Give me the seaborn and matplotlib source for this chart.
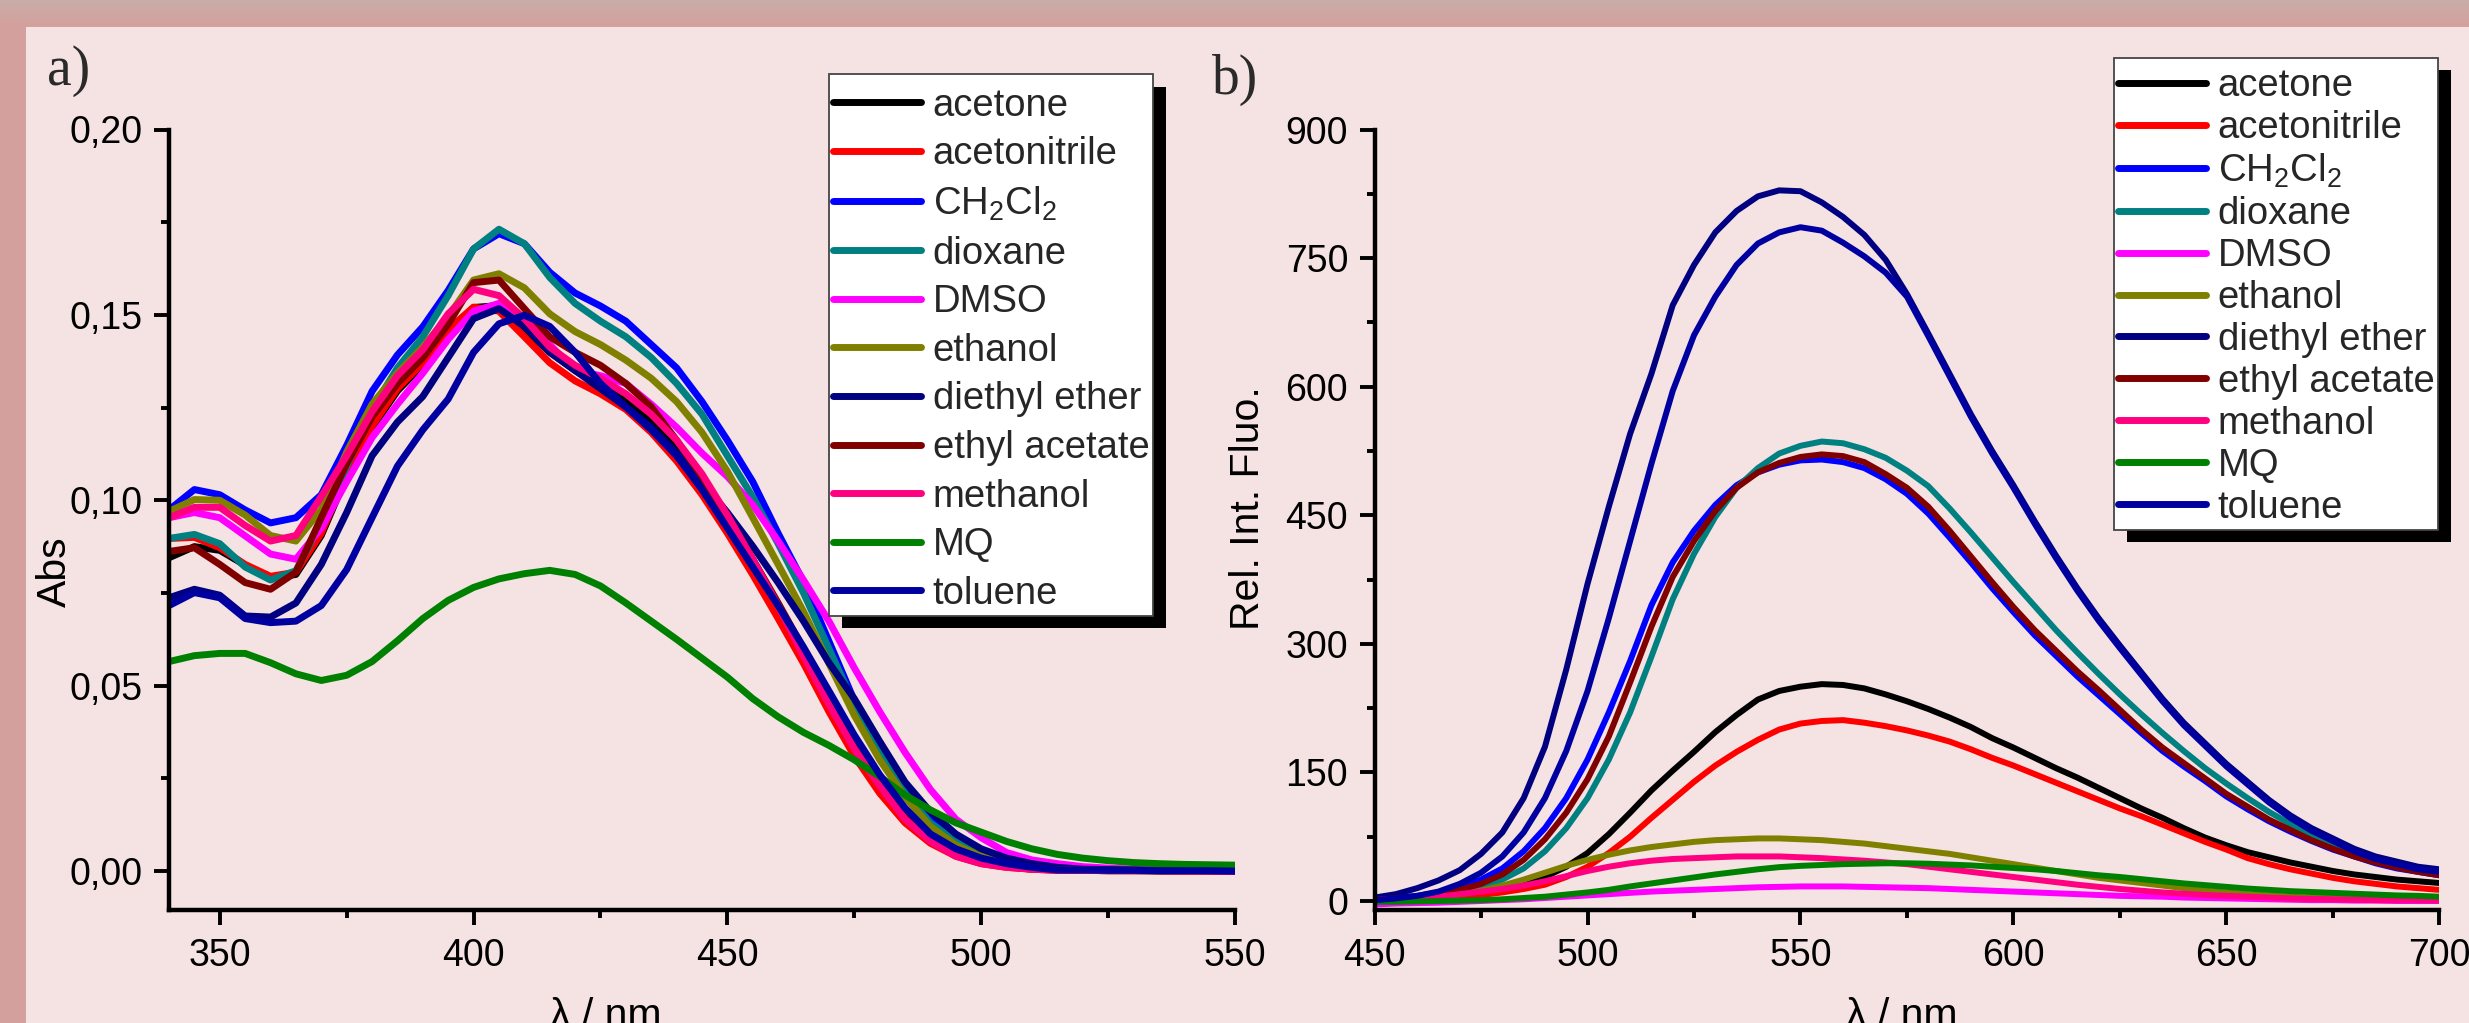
import numpy as np
import pandas as pd
import matplotlib
matplotlib.use("Agg")
import matplotlib.pyplot as plt
import seaborn as sns
from matplotlib.ticker import MultipleLocator, FuncFormatter
from matplotlib.patches import Rectangle
from matplotlib.transforms import IdentityTransform
from matplotlib.lines import Line2D

# ---------------- data ----------------
solvents = ["acetone", "acetonitrile", "CH2Cl2", "dioxane", "DMSO", "ethanol",
            "diethyl ether", "ethyl acetate", "methanol", "MQ", "toluene"]
legend_labels = ["acetone", "acetonitrile", r"CH$_\mathregular{2}$Cl$_\mathregular{2}$",
                 "dioxane", "DMSO", "ethanol", "diethyl ether", "ethyl acetate",
                 "methanol", "MQ", "toluene"]
colors = ["#000000", "#FF0000", "#0000FF", "#008080", "#FF00FF", "#808000",
          "#000080", "#800000", "#FF0080", "#008000", "#0000A0"]

# (a) absorption, 340-550 nm every 5 nm
wl_abs = list(range(340, 555, 5))
abs_acetone = [
    0.0845, 0.0875, 0.0865, 0.0825, 0.0790, 0.0800, 0.0905, 0.1065, 0.1195, 0.1295,
    0.1365, 0.1455, 0.1520, 0.1525, 0.1460, 0.1400, 0.1350, 0.1310, 0.1270, 0.1210,
    0.1140, 0.1050, 0.0950, 0.0840, 0.0720, 0.0590, 0.0460, 0.0340, 0.0230, 0.0140,
    0.0080, 0.0045, 0.0025, 0.0012, 0.0005, 0.0003, 0.0002, 0.0001, 0.0001, 0.0000,
    0.0000, 0.0000, 0.0000]
abs_acetonitrile = [
    0.0897, 0.0900, 0.0872, 0.0827, 0.0795, 0.0806, 0.0911, 0.1071, 0.1201, 0.1301,
    0.1371, 0.1461, 0.1521, 0.1510, 0.1441, 0.1371, 0.1322, 0.1287, 0.1245, 0.1183,
    0.1106, 0.1015, 0.0911, 0.0799, 0.0681, 0.0560, 0.0430, 0.0310, 0.0210, 0.0130,
    0.0075, 0.0040, 0.0020, 0.0010, 0.0005, 0.0002, 0.0002, 0.0001, 0.0001, 0.0001,
    0.0000, 0.0000, 0.0000]
abs_ch2cl2 = [
    0.0974, 0.1029, 0.1015, 0.0974, 0.0939, 0.0953, 0.1015, 0.1148, 0.1294, 0.1392,
    0.1468, 0.1566, 0.1678, 0.1719, 0.1692, 0.1615, 0.1559, 0.1524, 0.1483, 0.1420,
    0.1357, 0.1266, 0.1162, 0.1050, 0.0911, 0.0780, 0.0620, 0.0460, 0.0330, 0.0220,
    0.0140, 0.0090, 0.0050, 0.0030, 0.0015, 0.0010, 0.0006, 0.0004, 0.0003, 0.0002,
    0.0002, 0.0001, 0.0001]
abs_dioxane = [
    0.0897, 0.0908, 0.0883, 0.0820, 0.0785, 0.0810, 0.0940, 0.1092, 0.1245, 0.1357,
    0.1441, 0.1552, 0.1678, 0.1731, 0.1692, 0.1601, 0.1531, 0.1483, 0.1441, 0.1385,
    0.1315, 0.1232, 0.1120, 0.1009, 0.0883, 0.0750, 0.0600, 0.0450, 0.0320, 0.0210,
    0.0130, 0.0080, 0.0045, 0.0025, 0.0015, 0.0010, 0.0006, 0.0004, 0.0003, 0.0002,
    0.0002, 0.0001, 0.0001]
abs_dmso = [
    0.0953, 0.0967, 0.0953, 0.0904, 0.0855, 0.0841, 0.0925, 0.1050, 0.1169, 0.1259,
    0.1343, 0.1434, 0.1510, 0.1531, 0.1490, 0.1420, 0.1350, 0.1336, 0.1315, 0.1259,
    0.1197, 0.1127, 0.1064, 0.0988, 0.0890, 0.0785, 0.0674, 0.0548, 0.0430, 0.0320,
    0.0220, 0.0140, 0.0090, 0.0050, 0.0030, 0.0020, 0.0012, 0.0008, 0.0005, 0.0004,
    0.0003, 0.0003, 0.0002]
abs_ethanol = [
    0.0970, 0.1002, 0.1000, 0.0960, 0.0905, 0.0890, 0.0975, 0.1130, 0.1259, 0.1343,
    0.1413, 0.1496, 0.1594, 0.1611, 0.1573, 0.1503, 0.1455, 0.1420, 0.1378, 0.1329,
    0.1266, 0.1183, 0.1078, 0.0953, 0.0827, 0.0700, 0.0560, 0.0420, 0.0300, 0.0200,
    0.0120, 0.0070, 0.0040, 0.0020, 0.0010, 0.0005, 0.0003, 0.0003, 0.0002, 0.0002,
    0.0001, 0.0001, 0.0001]
abs_diethyl_ether = [
    0.0737, 0.0760, 0.0744, 0.0688, 0.0685, 0.0723, 0.0827, 0.0967, 0.1120, 0.1211,
    0.1280, 0.1385, 0.1490, 0.1517, 0.1469, 0.1399, 0.1350, 0.1301, 0.1252, 0.1197,
    0.1127, 0.1050, 0.0967, 0.0876, 0.0778, 0.0674, 0.0562, 0.0465, 0.0350, 0.0240,
    0.0160, 0.0100, 0.0060, 0.0035, 0.0020, 0.0010, 0.0005, 0.0004, 0.0003, 0.0002,
    0.0002, 0.0001, 0.0001]
abs_ethyl_acetate = [
    0.0862, 0.0872, 0.0827, 0.0778, 0.0760, 0.0806, 0.0953, 0.1099, 0.1225, 0.1315,
    0.1385, 0.1475, 0.1587, 0.1594, 0.1517, 0.1441, 0.1399, 0.1364, 0.1315, 0.1252,
    0.1162, 0.1064, 0.0953, 0.0841, 0.0723, 0.0600, 0.0470, 0.0350, 0.0240, 0.0150,
    0.0090, 0.0050, 0.0030, 0.0015, 0.0010, 0.0003, 0.0003, 0.0002, 0.0002, 0.0001,
    0.0001, 0.0001, 0.0000]
abs_methanol = [
    0.0953, 0.0981, 0.0981, 0.0932, 0.0890, 0.0905, 0.1010, 0.1120, 0.1239, 0.1336,
    0.1406, 0.1503, 0.1569, 0.1552, 0.1490, 0.1413, 0.1364, 0.1329, 0.1287, 0.1232,
    0.1162, 0.1071, 0.0960, 0.0841, 0.0716, 0.0580, 0.0450, 0.0330, 0.0230, 0.0140,
    0.0080, 0.0040, 0.0020, 0.0010, 0.0005, 0.0002, 0.0002, 0.0001, 0.0001, 0.0001,
    0.0000, 0.0000, 0.0000]
abs_mq = [
    0.0565, 0.0581, 0.0587, 0.0587, 0.0562, 0.0532, 0.0514, 0.0528, 0.0565, 0.0621,
    0.0681, 0.0730, 0.0765, 0.0788, 0.0802, 0.0811, 0.0800, 0.0769, 0.0723, 0.0674,
    0.0625, 0.0574, 0.0523, 0.0465, 0.0416, 0.0374, 0.0339, 0.0300, 0.0255, 0.0205,
    0.0165, 0.0130, 0.0105, 0.0080, 0.0060, 0.0045, 0.0035, 0.0028, 0.0023, 0.0020,
    0.0018, 0.0017, 0.0016]
abs_toluene = [
    0.0716, 0.0751, 0.0737, 0.0681, 0.0670, 0.0674, 0.0716, 0.0813, 0.0953, 0.1092,
    0.1190, 0.1273, 0.1399, 0.1476, 0.1499, 0.1469, 0.1399, 0.1315, 0.1252, 0.1190,
    0.1120, 0.1029, 0.0925, 0.0820, 0.0716, 0.0604, 0.0486, 0.0367, 0.0260, 0.0170,
    0.0100, 0.0060, 0.0035, 0.0020, 0.0010, 0.0003, 0.0003, 0.0002, 0.0002, 0.0001,
    0.0001, 0.0001, 0.0000]

# (b) fluorescence, 450-700 nm every 5 nm
wl_fl = list(range(450, 705, 5))
fl_acetone = [
    1, 1.5, 2.5, 4, 6, 9, 13, 18, 28, 40,
    56, 78, 103, 129, 152, 174, 197, 217, 235, 245,
    250, 253, 252, 248, 241, 233, 224, 214, 203, 190,
    179, 167, 155, 144, 132, 120, 108, 97, 85, 74,
    65, 57, 51, 45, 40, 35, 31, 28, 25, 23,
    21]
fl_acetonitrile = [
    0, 1, 2, 3, 5, 7, 10, 14, 19, 28,
    40, 56, 75, 97, 118, 139, 158, 174, 188, 200,
    207, 210, 211, 208, 204, 199, 193, 186, 177, 167,
    158, 148, 138, 128, 118, 108, 99, 89, 79, 69,
    60, 50, 43, 37, 32, 27, 23, 20, 17, 15,
    13]
fl_ch2cl2 = [
    2, 4, 6, 10, 16, 25, 38, 58, 85, 120,
    165, 220, 280, 345, 395, 432, 462, 485, 500, 509,
    514, 515, 512, 505, 492, 475, 452, 424, 395, 365,
    337, 310, 286, 262, 240, 218, 196, 175, 157, 140,
    122, 107, 93, 81, 70, 60, 52, 44, 38, 34,
    30]
fl_dioxane = [
    1, 2, 4, 6, 10, 16, 25, 38, 58, 85,
    120, 165, 220, 285, 352, 405, 448, 482, 505, 522,
    531, 536, 534, 527, 517, 502, 484, 458, 430, 401,
    372, 344, 316, 290, 265, 241, 218, 196, 175, 155,
    137, 120, 104, 90, 78, 66, 57, 49, 43, 38,
    34]
fl_dmso = [
    -4, -3, -2.5, -2, -1, 0, 1, 2, 3.5, 5,
    6.5, 8, 9.5, 11, 12, 13, 14, 15, 16, 16.5,
    17, 17, 17, 16.5, 16, 15.5, 15, 14, 13, 12,
    11, 10, 9, 8, 7, 6, 5.5, 5, 4, 3.5,
    3, 2.5, 2, 1.5, 1, 1, 0.5, 0.5, 0, 0,
    0]
fl_ethanol = [
    0, 1, 2, 4, 8, 12, 18, 25, 33, 41,
    48, 54, 59, 63, 66, 69, 71, 72, 73, 73,
    72, 71, 69, 67, 64, 61, 58, 55, 51, 47,
    43, 39, 35, 31, 27, 24, 21, 18, 15, 12,
    10, 8, 6.5, 5, 4, 3.5, 3, 2.5, 2, 2,
    2]
fl_diethyl_ether = [
    4, 8, 15, 24, 36, 55, 80, 120, 180, 270,
    370, 460, 545, 615, 695, 742, 780, 805, 822, 829,
    828, 815, 798, 777, 748, 708, 662, 615, 568, 525,
    485, 443, 403, 365, 330, 298, 267, 236, 208, 184,
    160, 139, 118, 100, 85, 73, 61, 52, 46, 40,
    37]
fl_ethyl_acetate = [
    1.5, 3, 5, 8, 13, 20, 31, 48, 72, 103,
    142, 192, 255, 320, 378, 420, 455, 482, 500, 511,
    518, 521, 519, 512, 498, 482, 460, 432, 402, 372,
    343, 316, 292, 268, 246, 223, 200, 179, 161, 143,
    125, 110, 95, 83, 71, 61, 52, 45, 39, 34,
    30]
fl_methanol = [
    1, 2, 3.5, 5, 8, 11, 14, 18, 23, 29,
    35, 40, 44, 47, 49, 50, 51, 52, 52, 52,
    51, 50, 48.5, 47, 45, 43, 40, 37, 34, 31,
    28, 25, 22, 19, 16.5, 14, 12, 10, 8.5, 7,
    6, 5, 4, 3, 2.5, 2, 1.5, 1, 1, 1,
    0.5]
fl_mq = [
    -1, -1, -0.5, 0, 0.5, 1, 2, 3.5, 5, 7.5,
    10, 13, 17, 20.5, 24, 27.5, 31, 34, 37, 39.5,
    41, 42, 43, 43.5, 44, 44, 43.5, 42.5, 41.5, 40,
    38.5, 37, 35, 32.5, 30, 28, 25.5, 23, 20.5, 18.5,
    16.5, 14.5, 13, 11.5, 10.5, 9.5, 8.5, 7.5, 6.5, 6,
    5]
fl_toluene = [
    1, 3, 6, 11, 20, 33, 52, 80, 120, 175,
    245, 330, 420, 510, 595, 660, 705, 742, 767, 780,
    786, 782, 768, 752, 733, 705, 659, 612, 565, 522,
    482, 440, 400, 362, 327, 295, 264, 233, 205, 181,
    157, 136, 115, 97, 82, 70, 58, 49, 43, 37,
    34]

abs_series = [abs_acetone, abs_acetonitrile, abs_ch2cl2, abs_dioxane, abs_dmso, abs_ethanol,
              abs_diethyl_ether, abs_ethyl_acetate, abs_methanol, abs_mq, abs_toluene]
fl_series = [fl_acetone, fl_acetonitrile, fl_ch2cl2, fl_dioxane, fl_dmso, fl_ethanol,
             fl_diethyl_ether, fl_ethyl_acetate, fl_methanol, fl_mq, fl_toluene]

df_a = pd.concat([pd.DataFrame({"wl": wl_abs, "val": v, "solvent": s})
                  for s, v in zip(solvents, abs_series)], ignore_index=True)
df_b = pd.concat([pd.DataFrame({"wl": wl_fl, "val": v, "solvent": s})
                  for s, v in zip(solvents, fl_series)], ignore_index=True)
palette = dict(zip(solvents, colors))

# ---------------- style ----------------
sns.set_theme(style="ticks")
plt.rcParams["font.family"] = ["Liberation Sans", "DejaVu Sans"]
plt.rcParams["mathtext.fontset"] = "custom"
plt.rcParams["mathtext.rm"] = "Liberation Sans"
plt.rcParams["mathtext.it"] = "Liberation Sans:italic"
plt.rcParams["mathtext.bf"] = "Liberation Sans:bold"

BG = "#f5e3e3"
W, H = 2469, 1023
fig = plt.figure(figsize=(W / 100, H / 100), dpi=100, facecolor=BG)

# slide decorations: top band (gradient) and left strip
band = fig.add_axes([0, 1 - 27 / H, 1, 27 / H])
c_top = np.array([201, 172, 166]) / 255
c_bot = np.array([213, 160, 158]) / 255
t = np.linspace(0, 1, 27)[:, None, None]
grad = c_top[None, None, :] * (1 - t) + c_bot[None, None, :] * t
band.imshow(np.repeat(grad, 2, axis=1), aspect="auto", extent=[0, 1, 0, 1])
band.set_axis_off()
fig.add_artist(Rectangle((0, 0), 26 / W, 1 - 27 / H, transform=fig.transFigure,
                         facecolor="#d4a09e", edgecolor="none", zorder=0))

top_px, bot_px = 129.5, 910.0
ax_a = fig.add_axes([169 / W, 1 - bot_px / H, (1235 - 169) / W, (bot_px - top_px) / H])
ax_b = fig.add_axes([1374.6 / W, 1 - bot_px / H, (2439.3 - 1374.6) / W, (bot_px - top_px) / H])

LW_A, LW_B = 5.0, 4.3
sns.lineplot(data=df_a, x="wl", y="val", hue="solvent", hue_order=solvents,
             palette=palette, estimator=None, sort=False, linewidth=LW_A,
             legend=False, ax=ax_a, solid_joinstyle="round", solid_capstyle="round")
sns.lineplot(data=df_b, x="wl", y="val", hue="solvent", hue_order=solvents,
             palette=palette, estimator=None, sort=False, linewidth=LW_B,
             legend=False, ax=ax_b, solid_joinstyle="round", solid_capstyle="round")

ax_a.set_xlim(340, 550)
ax_a.set_ylim(-0.0105, 0.20)
ax_b.set_xlim(450, 700)
ax_b.set_ylim(-10.5, 900)

ax_a.xaxis.set_major_locator(MultipleLocator(50))
ax_a.xaxis.set_minor_locator(MultipleLocator(25))
ax_a.yaxis.set_major_locator(MultipleLocator(0.05))
ax_a.yaxis.set_minor_locator(MultipleLocator(0.025))
ax_a.yaxis.set_major_formatter(FuncFormatter(lambda v, p: f"{v:.2f}".replace(".", ",")))
ax_b.xaxis.set_major_locator(MultipleLocator(50))
ax_b.xaxis.set_minor_locator(MultipleLocator(25))
ax_b.yaxis.set_major_locator(MultipleLocator(150))
ax_b.yaxis.set_minor_locator(MultipleLocator(75))
ax_b.yaxis.set_major_formatter(FuncFormatter(lambda v, p: f"{v:.0f}"))

for ax in (ax_a, ax_b):
    ax.set_facecolor("none")
    sns.despine(ax=ax)
    for side in ("left", "bottom"):
        ax.spines[side].set_linewidth(3.2)
        ax.spines[side].set_color("black")
    ax.tick_params(which="major", direction="out", length=11, width=2.8,
                   labelsize=27, colors="black")
    ax.tick_params(which="minor", direction="out", length=6, width=2.8, colors="black")
    ax.tick_params(axis="x", which="major", pad=9)
    ax.tick_params(axis="y", which="major", pad=8)

ax_a.set_xlabel("λ / nm", fontsize=29.5, color="black")
ax_a.xaxis.set_label_coords(0.41, (bot_px - 1027) / (bot_px - top_px))
ax_a.xaxis.label.set_va("baseline")
ax_b.set_xlabel("λ / nm", fontsize=29.5, color="black")
ax_b.xaxis.set_label_coords(0.495, (bot_px - 1027) / (bot_px - top_px))
ax_b.xaxis.label.set_va("baseline")

ax_a.set_ylabel("Abs", fontsize=29.5, color="black")
ax_a.yaxis.set_label_coords(-0.107, (bot_px - 572) / (bot_px - top_px))
ax_a.yaxis.label.set_va("center")
ax_b.set_ylabel("Rel. Int. Fluo.", fontsize=29.5, color="black")
ax_b.yaxis.set_label_coords(-0.119, (bot_px - 508) / (bot_px - top_px))
ax_b.yaxis.label.set_va("center")

fig.text(47 / W, 1 - 85 / H, "a)", fontsize=40, family="Liberation Serif",
         color="#2a2a2a", ha="left", va="baseline")
fig.text(1212 / W, 1 - 94 / H, "b)", fontsize=40, family="Liberation Serif",
         color="#2a2a2a", ha="left", va="baseline")

# legends: content placed without frame; white box + offset black shadow drawn around it
PAD = 4
def make_legend(ax, x_px, y_px, fs, spacing, top_pad):
    handles = [Line2D([0], [0], color=c, lw=5) for c in colors]
    leg = ax.legend(handles, legend_labels, loc="upper left",
                    bbox_to_anchor=((x_px + PAD) / W, 1 - (y_px + top_pad) / H),
                    bbox_transform=fig.transFigure, fontsize=fs, frameon=False,
                    borderpad=0, labelspacing=spacing, handlelength=2.3,
                    handletextpad=0.31, borderaxespad=0)
    leg.set_zorder(10)
    return leg

TOP_A, TOP_B = 13.5, 10
leg_a = make_legend(ax_a, 829, 74, 27.5, 0.33, TOP_A)
leg_b = make_legend(ax_b, 2114, 58, 27.5, 0.155, TOP_B)

fig.canvas.draw()
for ax, leg, (ox, oy), tp in ((ax_a, leg_a, (13, 12.5), TOP_A), (ax_b, leg_b, (12.5, 12), TOP_B)):
    bb = leg.get_window_extent()
    x0, y0 = bb.x0 - PAD, bb.y0 - PAD
    w, h = bb.width + 2 * PAD, bb.height + PAD + tp
    sh = Rectangle((x0 + ox, y0 - oy), w, h, transform=IdentityTransform(),
                   facecolor="black", edgecolor="none", zorder=9.8, clip_on=False)
    fr = Rectangle((x0, y0), w, h, transform=IdentityTransform(),
                   facecolor="white", edgecolor="#444444", linewidth=1.3,
                   zorder=9.9, clip_on=False)
    for p in (sh, fr):
        ax.add_artist(p)
        p.set_clip_on(False)

fig.savefig("out.png", dpi=100, facecolor=fig.get_facecolor())
